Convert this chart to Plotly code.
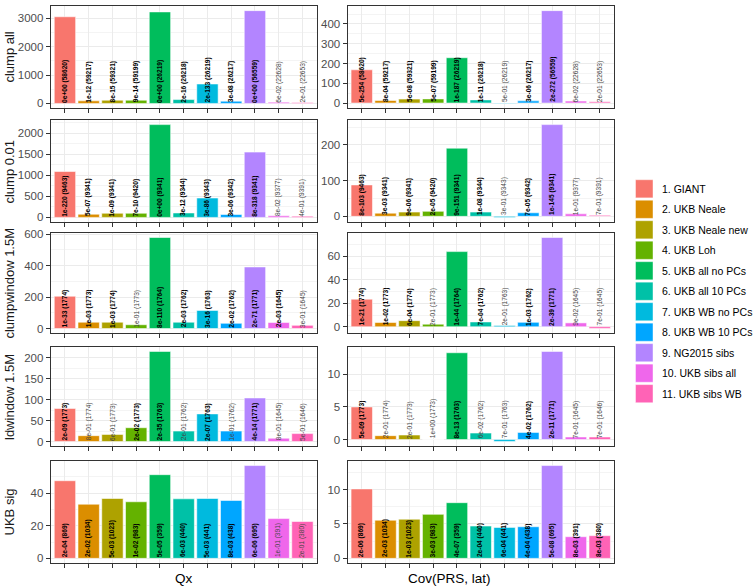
import plotly.graph_objects as go

# ---------------- data ----------------
series = ["1. GIANT", "2. UKB Neale", "3. UKB Neale new", "4. UKB Loh", "5. UKB all no PCs",
          "6. UKB all 10 PCs", "7. UKB WB no PCs", "8. UKB WB 10 PCs", "9. NG2015 sibs",
          "10. UKB sibs all", "11. UKB sibs WB"]
colors = ["#F8766D", "#DB8E00", "#AEA200", "#64B200", "#00BD5C", "#00C1A7",
          "#00BADE", "#00A6FF", "#B385FF", "#EF67EB", "#FF63B6"]
row_names = ["clump all", "clump 0.01", "clumpwindow 1.5M", "ldwindow 1.5M", "UKB sig"]
col_names = ["Qx", "Cov(PRS, lat)"]

# clump all
qx_clump_all = [3048, 92, 114, 114, 3219, 137, 685, 80, 3264, 46, 34]
qx_clump_all_p = ["0e+00", "1e-12", "8e-15", "9e-14", "0e+00", "2e-16", "2e-133", "3e-08", "0e+00", "6e-02", "2e-01"]
cov_clump_all = [168, 13, 20, 21, 229, 16, -2, 11, 467, 10, 6]
cov_clump_all_p = ["5e-254", "8e-04", "5e-08", "5e-07", "1e-187", "1e-11", "5e-01", "3e-06", "2e-272", "6e-02", "2e-01"]
n_clump_all = [58620, 59217, 59321, 59199, 26219, 26218, 26219, 26217, 56559, 22628, 22653]

# clump 0.01
qx_clump001 = [1092, 76, 99, 99, 2208, 106, 462, 69, 1554, 37, 30]
qx_clump001_p = ["1e-220", "5e-07", "1e-09", "7e-10", "0e+00", "3e-12", "3e-86", "3e-06", "8e-318", "8e-02", "4e-01"]
cov_clump001 = [88, 9, 12, 14, 191, 12, -3, 10, 257, 7, 3]
cov_clump001_p = ["8e-103", "3e-03", "9e-06", "2e-05", "9e-151", "1e-08", "3e-01", "7e-05", "1e-145", "1e-01", "7e-01"]
n_clump001 = [9463, 9341, 9341, 9420, 9341, 9344, 9343, 9342, 9341, 9377, 9391]

# clumpwindow 1.5M
qx_clumpwin = [205, 40, 40, 24, 578, 40, 115, 33, 391, 38, 20]
qx_clumpwin_p = ["1e-33", "1e-03", "1e-03", "1e-01", "8e-110", "2e-03", "3e-16", "2e-02", "2e-71", "2e-03", "3e-01"]
cov_clumpwin = [23.5, 3.6, 5.2, 2.2, 64, 4.1, 1.1, 3.8, 76, 3.3, -1.5]
cov_clumpwin_p = ["1e-21", "1e-02", "6e-04", "2e-01", "1e-44", "7e-04", "2e-01", "1e-03", "2e-39", "9e-02", "7e-01"]
n_clumpwin = [1774, 1773, 1774, 1773, 1764, 1762, 1763, 1762, 1771, 1645, 1645]

# ldwindow 1.5M
qx_ldwin = [79, 14, 17, 33, 215, 25, 66, 25, 104, 8, 19]
qx_ldwin_p = ["2e-09", "8e-01", "6e-01", "2e-02", "2e-35", "2e-01", "2e-07", "1e-01", "4e-14", "8e-01", "5e-01"]
cov_ldwin = [5.0, 0.6, 0.7, 0.02, 13.3, 1.0, -0.3, 1.1, 13.5, 0.4, 0.4]
cov_ldwin_p = ["5e-09", "2e-01", "2e-01", "1e+00", "8e-13", "6e-02", "7e-01", "4e-02", "2e-11", "7e-01", "7e-01"]
n_ldwin = [1773, 1774, 1773, 1773, 1763, 1762, 1763, 1762, 1771, 1645, 1646]

# UKB sig
qx_ukbsig = [47.6, 33.2, 36.7, 34.7, 51.3, 36.5, 36.7, 35.5, 56.9, 24.4, 22.6]
qx_ukbsig_p = ["2e-04", "2e-02", "5e-03", "1e-02", "5e-05", "6e-03", "5e-03", "8e-03", "6e-06", "1e-01", "2e-01"]
cov_ukbsig = [10.1, 5.55, 5.7, 6.4, 8.1, 4.7, 4.5, 4.6, 13.5, 3.15, 3.3]
cov_ukbsig_p = ["2e-06", "2e-03", "1e-03", "3e-03", "4e-07", "2e-04", "6e-04", "4e-04", "5e-08", "8e-03", "8e-03"]
n_ukbsig = [869, 1034, 1023, 983, 359, 440, 441, 438, 695, 391, 380]

qx_dticks = [1000, 500, 200, 50, 20]
cov_dticks = [100, 100, 20, 5, 5]

panels = [
    [(qx_clump_all, qx_clump_all_p, n_clump_all), (cov_clump_all, cov_clump_all_p, n_clump_all)],
    [(qx_clump001, qx_clump001_p, n_clump001), (cov_clump001, cov_clump001_p, n_clump001)],
    [(qx_clumpwin, qx_clumpwin_p, n_clumpwin), (cov_clumpwin, cov_clumpwin_p, n_clumpwin)],
    [(qx_ldwin, qx_ldwin_p, n_ldwin), (cov_ldwin, cov_ldwin_p, n_ldwin)],
    [(qx_ukbsig, qx_ukbsig_p, n_ukbsig), (cov_ukbsig, cov_ukbsig_p, n_ukbsig)],
]
dticks = [[qx_dticks[i], cov_dticks[i]] for i in range(5)]

# ---------------- layout geometry ----------------
W, H = 753, 588
ML, MR, MT, MB = 50, 139, 1, 25
PW, PH = W - ML - MR, H - MT - MB
FONT = "Liberation Sans, Arial, Helvetica, sans-serif"

def px_x(p):
    return (p - ML) / PW

def px_y(p):
    return (H - MB - p) / PH

def clamp(v):
    return min(1.0, max(0.0, v))

col_dom = [[clamp(px_x(50.7)), clamp(px_x(316.7))], [clamp(px_x(347.5)), clamp(px_x(614))]]
row_px = [(1, 104), (116, 219), (230, 331), (345, 445), (460, 563)]
row_dom = [[clamp(px_y(b)), clamp(px_y(t))] for t, b in row_px]

fig = go.Figure()
layout = {}
annotations = []
shapes = []

for r in range(5):
    for c in range(2):
        idx = r * 2 + c + 1
        sfx = "" if idx == 1 else str(idx)
        vals, pv, ns = panels[r][c]
        fig.add_trace(go.Bar(
            x=series, y=vals, marker=dict(color=colors, line=dict(color="rgba(255,255,255,0.55)", width=1)),
            width=0.9, showlegend=False, xaxis="x" + sfx, yaxis="y" + sfx,
            hovertemplate="%{x}: %{y}<extra></extra>"))
        lo = min(0, min(vals))
        hi = max(0, max(vals))
        span = hi - lo
        d = dticks[r][c]
        layout["xaxis" + sfx] = dict(
            domain=col_dom[c], anchor="y" + sfx, type="category", range=[-0.6, 10.6],
            showticklabels=False, ticks="outside", ticklen=4, tickcolor="#333333", tickwidth=1,
            showgrid=True, gridcolor="#EBEBEB", gridwidth=1,
            showline=True, mirror=True, linecolor="#333333", linewidth=1, zeroline=False,
            fixedrange=True)
        layout["yaxis" + sfx] = dict(
            domain=row_dom[r], anchor="x" + sfx, range=[lo - 0.05 * span, hi + 0.05 * span],
            tick0=0, dtick=d, ticks="outside", ticklen=4, tickcolor="#333333", tickwidth=1,
            tickfont=dict(size=11.5, color="#4D4D4D", family=FONT),
            showgrid=True, gridcolor="#EBEBEB", gridwidth=1,
            minor=dict(tick0=0, dtick=d / 2, showgrid=True, gridcolor="#F4F4F4", gridwidth=0.6),
            showline=True, mirror=True, linecolor="#333333", linewidth=1, zeroline=False,
            fixedrange=True)
        for i in range(len(series)):
            sig = float(pv[i]) < 0.05
            txt = f"{pv[i]} ({ns[i]})"
            annotations.append(dict(
                x=series[i], y=0, xref="x" + sfx, yref="y" + sfx,
                text=f"<b>{txt}</b>" if sig else txt, showarrow=False, textangle=-90,
                xanchor="center", yanchor="bottom", borderpad=0,
                font=dict(size=6.6, color="#000000" if sig else "#444444", family=FONT)))
    # strip label on the left
    annotations.append(dict(
        x=px_x(9.5), y=(row_dom[r][0] + row_dom[r][1]) / 2, xref="paper", yref="paper",
        text=row_names[r], showarrow=False, textangle=-90, xanchor="center", yanchor="middle",
        font=dict(size=13, color="#1A1A1A", family=FONT)))

# column titles
title_x = [184, 449]
for c in range(2):
    annotations.append(dict(
        x=px_x(title_x[c]), y=px_y(579), xref="paper", yref="paper", text=col_names[c],
        showarrow=False, xanchor="center", yanchor="middle",
        font=dict(size=13.5, color="#000000", family=FONT)))

# legend (keys + labels)
key_top0, key_step, key_h = 176.3, 20.67, 18.3
for i, name in enumerate(series):
    top = key_top0 + i * key_step
    shapes.append(dict(type="rect", xref="paper", yref="paper",
                       x0=px_x(635.5), x1=px_x(653), y0=px_y(top + key_h), y1=px_y(top),
                       fillcolor=colors[i], line=dict(width=0.8, color="rgba(255,255,255,0.55)")))
    annotations.append(dict(
        x=px_x(660), y=px_y(top + key_h / 2), xref="paper", yref="paper", text=name,
        showarrow=False, xanchor="left", yanchor="middle",
        font=dict(size=10.5, color="#000000", family=FONT)))

fig.update_layout(
    width=W, height=H, autosize=False,
    margin=dict(l=ML, r=MR, t=MT, b=MB, pad=0),
    paper_bgcolor="white", plot_bgcolor="white",
    bargap=0.1, showlegend=False,
    font=dict(family=FONT),
    annotations=annotations, shapes=shapes,
    **layout)

fig.write_html("out.html",
               config={"displayModeBar": False},
               post_script="document.body.style.margin='0';document.body.style.overflow='hidden';")
